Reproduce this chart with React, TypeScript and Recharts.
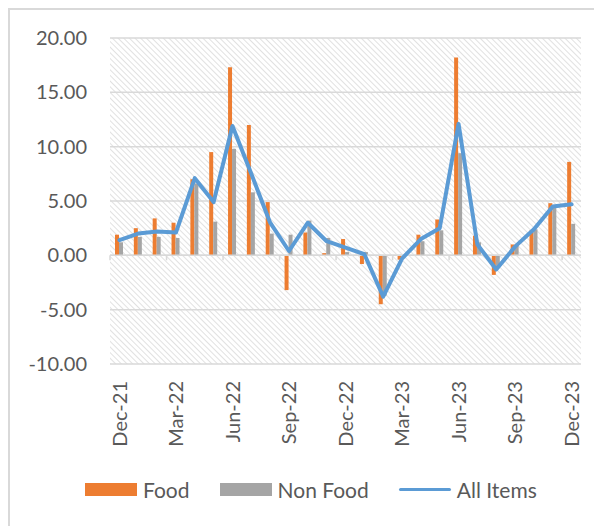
import React from "react";
import {
  ComposedChart,
  Bar,
  Line,
  XAxis,
  YAxis,
  CartesianGrid,
  ReferenceLine,
  Legend,
} from "recharts";

const months = [
  "Dec-21", "Jan-22", "Feb-22", "Mar-22", "Apr-22", "May-22", "Jun-22",
  "Jul-22", "Aug-22", "Sep-22", "Oct-22", "Nov-22", "Dec-22", "Jan-23",
  "Feb-23", "Mar-23", "Apr-23", "May-23", "Jun-23", "Jul-23", "Aug-23",
  "Sep-23", "Oct-23", "Nov-23", "Dec-23",
];
const food = [
  1.9, 2.5, 3.4, 3.0, 7.0, 9.5, 17.3, 12.0, 4.9, -3.2, 2.1, 0.2, 1.5,
  -0.8, -4.5, -0.4, 1.9, 3.3, 18.2, 1.8, -1.8, 1.0, 2.3, 4.8, 8.6,
];
const nonFood = [
  1.2, 1.7, 1.7, 1.6, 6.6, 3.1, 9.8, 5.8, 2.0, 1.9, 3.2, 1.6, 0.3,
  0.3, -3.7, -0.2, 1.3, 2.3, 9.4, 1.2, -1.0, 0.9, 2.4, 4.5, 2.9,
];
const allItems = [
  1.4, 2.0, 2.2, 2.1, 7.1, 4.9, 11.9, 7.5, 3.0, 0.4, 3.0, 1.3, 0.7,
  0.1, -3.8, -0.3, 1.5, 2.5, 12.1, 1.0, -1.3, 0.8, 2.4, 4.5, 4.7,
];
const yTicks = [-10, -5, 0, 5, 10, 15, 20];

const legendItems = [
  { label: "Food", kind: "rect", color: "#ed7d31" },
  { label: "Non Food", kind: "rect", color: "#a5a5a5" },
  { label: "All Items", kind: "line", color: "#5b9bd5" },
];

const data = months.map((m, i) => ({
  month: m,
  food: food[i],
  nonFood: nonFood[i],
  allItems: allItems[i],
}));

const FONT = "Lato, 'Open Sans', sans-serif";
const TEXT = "#595959";
const GRID = "#d9d9d9";

function MonthTick({ x, y, payload }: any) {
  const ty = y + 9;
  return (
    <text
      x={x}
      y={ty}
      transform={`rotate(-90 ${x} ${ty})`}
      textAnchor="end"
      dy="0.36em"
      fontSize={20}
      fontFamily={FONT}
      fill={TEXT}
    >
      {payload.value}
    </text>
  );
}

// zero line with Excel-style tick marks between every third category
function ZeroAxis(props: any) {
  const { x1, x2, y1 } = props;
  const band = (x2 - x1) / months.length;
  const marks = [];
  for (let k = 0; k < months.length; k += 3) {
    const tx = x1 + k * band;
    marks.push(
      <line key={k} x1={tx} x2={tx} y1={y1} y2={y1 + 5} stroke={GRID} strokeWidth={1.5} />
    );
  }
  return (
    <g>
      <line x1={x1} x2={x2} y1={y1} y2={y1} stroke={GRID} strokeWidth={1.5} />
      {marks}
    </g>
  );
}

function LegendBox() {
  return (
    <div
      style={{
        display: "flex",
        alignItems: "center",
        paddingLeft: 75,
        fontFamily: FONT,
        fontSize: 21,
        color: TEXT,
      }}
    >
      {legendItems.map((p) => (
        <div key={p.label} style={{ display: "flex", alignItems: "center", marginRight: 30 }}>
          {p.kind === "line" ? (
            <span style={{ width: 52, height: 3, background: p.color, borderRadius: 2 }} />
          ) : (
            <span style={{ width: 52, height: 13, background: p.color }} />
          )}
          <span style={{ marginLeft: 6 }}>{p.label}</span>
        </div>
      ))}
    </div>
  );
}

export default function App() {
  return (
    <div
      style={{
        width: 594,
        height: 518,
        boxSizing: "border-box",
        borderLeft: `2px solid ${GRID}`,
        borderTop: `2px solid ${GRID}`,
        background: "#fff",
      }}
    >
      <ComposedChart
        width={592}
        height={516}
        data={data}
        margin={{ top: 28, right: 21, bottom: 0, left: 0 }}
        barGap={0}
        barCategoryGap={0}
      >
        <defs>
          <pattern id="hatch" width="4" height="4" patternUnits="userSpaceOnUse" patternTransform="rotate(-45)">
            <line x1="0" y1="0" x2="0" y2="4" stroke="#dadada" strokeWidth={1.6} />
          </pattern>
        </defs>
        <CartesianGrid
          vertical={false}
          stroke={GRID}
          strokeWidth={1.5}
          fill="url(#hatch)"
          fillOpacity={1}
        />
        <XAxis
          dataKey="month"
          interval={2}
          axisLine={false}
          tickLine={false}
          tick={<MonthTick />}
          height={137}
        />
        <YAxis
          domain={[-10, 20]}
          ticks={yTicks}
          width={100}
          axisLine={false}
          tickLine={false}
          tickMargin={17}
          tickFormatter={(v: number) => v.toFixed(2)}
          tick={{ fontSize: 20, fontFamily: FONT, fill: TEXT }}
        />
        <ReferenceLine y={0} shape={<ZeroAxis />} />
        <Legend
          content={<LegendBox />}
          wrapperStyle={{ position: "absolute", top: 467, left: 0, width: 592 }}
        />
        <Bar dataKey="food" name="Food" fill="#ed7d31" barSize={4} isAnimationActive={false} />
        <Bar dataKey="nonFood" name="Non Food" fill="#a5a5a5" barSize={4} isAnimationActive={false} />
        <Line
          dataKey="allItems"
          name="All Items"
          type="linear"
          stroke="#5b9bd5"
          strokeWidth={4}
          strokeLinejoin="round"
          strokeLinecap="round"
          dot={false}
          activeDot={false}
          isAnimationActive={false}
        />
      </ComposedChart>
    </div>
  );
}
